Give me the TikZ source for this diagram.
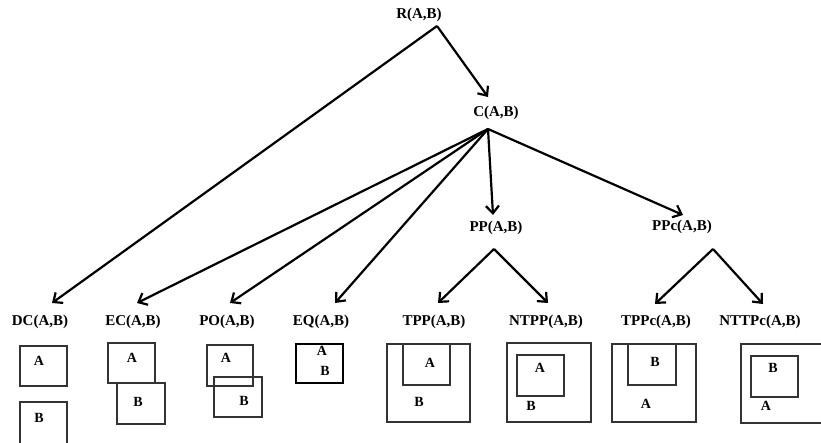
\documentclass[tikz,border=0pt]{standalone}
\usepackage{fontspec}
\setmainfont{Liberation Serif}
\usetikzlibrary{arrows.meta,calc}
\begin{document}
\begin{tikzpicture}[x=1pt,y=-1pt,
  lbl/.style={font=\fontsize{15}{16}\selectfont\bfseries, inner sep=0pt},
  let/.style={font=\fontsize{14}{15}\selectfont\bfseries, inner sep=0pt},
  arr/.style={line width=2.2pt, -{Straight Barb[length=7.5pt,width=13pt,line width=2.2pt]}},
  box/.style={draw=black!80, line width=1.5pt},
  eqbox/.style={draw=black, line width=2.3pt}]
\useasboundingbox (0,0) rectangle (821,443);
% labels
\node[lbl] (r) at (419,15) {R(A,B)};
\node[lbl] (c) at (496,113) {C(A,B)};
\node[lbl] (pp) at (496,228) {PP(A,B)};
\node[lbl] (ppc) at (682,227) {PPc(A,B)};
\node[lbl] (dc) at (40,322) {DC(A,B)};
\node[lbl] (ec) at (133,322) {EC(A,B)};
\node[lbl] (po) at (227,322) {PO(A,B)};
\node[lbl] (eq) at (321,322) {EQ(A,B)};
\node[lbl] (tpp) at (434,322) {TPP(A,B)};
\node[lbl] (ntpp) at (546,322) {NTPP(A,B)};
\node[lbl] (tppc) at (656,322) {TPPc(A,B)};
\node[lbl] (nttpc) at (760,322) {NTTPc(A,B)};
% arrows
\draw[arr] ($(r)+(18,11)$) -- ($(c)+(-8,-16)$);
\draw[arr] ($(r)+(18,11)$) -- ($(dc)+(12,-19)$);
\draw[arr] ($(c)+(-8,16)$) -- ($(ec)+(4,-19)$);
\draw[arr] ($(c)+(-8,16)$) -- ($(po)+(3,-19)$);
\draw[arr] ($(c)+(-8,16)$) -- ($(eq)+(14,-19)$);
\draw[arr] ($(c)+(-8,16)$) -- ($(pp)+(-3,-13)$);
\draw[arr] ($(c)+(-8,16)$) -- ($(ppc)+(1,-12)$);
\draw[arr] ($(pp)+(-2,21)$) -- ($(tpp)+(4,-19)$);
\draw[arr] ($(pp)+(-2,21)$) -- ($(ntpp)+(2,-19)$);
\draw[arr] ($(ppc)+(31,22)$) -- ($(tppc)+(-1,-18)$);
\draw[arr] ($(ppc)+(31,22)$) -- ($(nttpc)+(3,-18)$);
% DC
\draw[box] (20,346) rectangle (67,386);
\node[let] (dcA) at (39,361) {A};
\draw[box] (20,402) rectangle (67,446);
\node[let] (dcB) at (39,418) {B};
% EC
\draw[box] (108,343) rectangle (155,383);
\node[let] (ecA) at (132,358) {A};
\draw[box] (117,383) rectangle (165,424);
\node[let] (ecB) at (138,402) {B};
% PO
\draw[box] (207,345) rectangle (253,386);
\node[let] (poA) at (226,358) {A};
\draw[box] (214,377) rectangle (262,417);
\node[let] (poB) at (244,401) {B};
% EQ
\draw[eqbox] (296,344) rectangle (343,383);
\node[let] (eqA) at (322,351) {A};
\node[let] (eqB) at (325,371) {B};
% TPP
\draw[box] (387,344) rectangle (470,422);
\draw[box] (403,344) rectangle (450,385);
\node[let] (tppA) at (430,363) {A};
\node[let] (tppB) at (419,402) {B};
% NTPP
\draw[box] (507,343) rectangle (591,422);
\draw[box] (517,355) rectangle (564,396);
\node[let] (ntppA) at (540,368) {A};
\node[let] (ntppB) at (531,406) {B};
% TPPc
\draw[box] (612,344) rectangle (696,422);
\draw[box] (628,344) rectangle (676,385);
\node[let] (tppcB) at (655,362) {B};
\node[let] (tppcA) at (646,404) {A};
% NTTPc
\draw[box] (741,344) rectangle (825,423);
\draw[box] (751,356) rectangle (798,397);
\node[let] (nttpcB) at (773,368) {B};
\node[let] (nttpcA) at (766,406) {A};
\end{tikzpicture}
\end{document}
